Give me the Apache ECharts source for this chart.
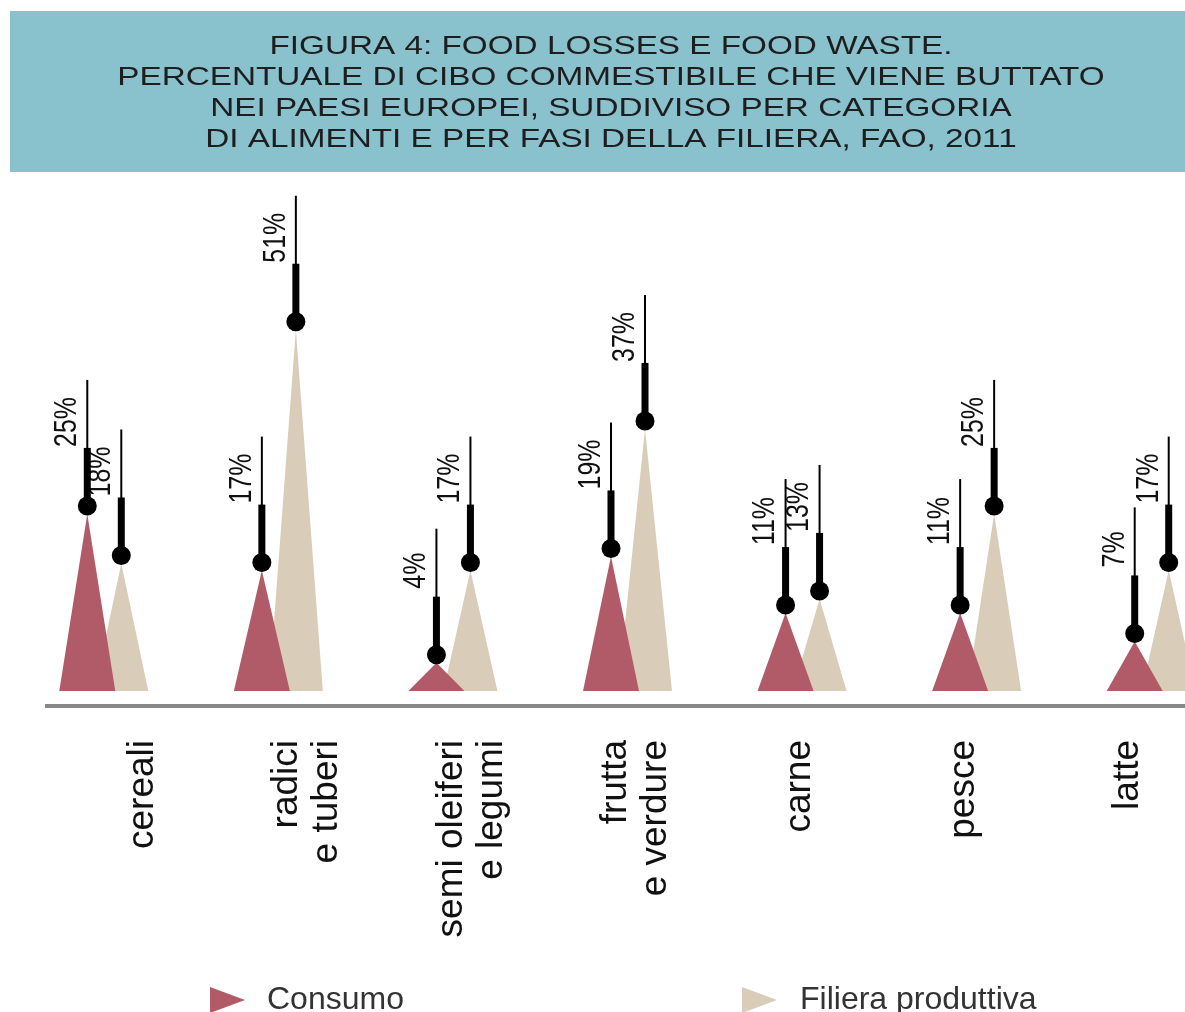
<!DOCTYPE html>
<html>
<head>
<meta charset="utf-8">
<title>Food losses e food waste</title>
<script src="https://cdn.jsdelivr.net/npm/echarts@6/dist/echarts.min.js"></script>
<style>
  html, body { margin: 0; padding: 0; background: #fff; }
  #chart { width: 1185px; height: 1012px; }
</style>
</head>
<body>
<div id="chart"></div>
<script>
// categorie di alimenti
const categories = ['cereali', 'radici\ne tuberi', 'semi oleiferi\ne legumi', 'frutta\ne verdure', 'carne', 'pesce', 'latte'];
// % di cibo buttato
const consumo = [25, 17, 4, 19, 11, 11, 7];
const filiera = [18, 51, 17, 37, 13, 25, 17];

const titleText = 'FIGURA 4: FOOD LOSSES E FOOD WASTE.\n' +
    'PERCENTUALE DI CIBO COMMESTIBILE CHE VIENE BUTTATO\n' +
    'NEI PAESI EUROPEI, SUDDIVISO PER CATEGORIA\n' +
    'DI ALIMENTI E PER FASI DELLA FILIERA, FAO, 2011';

const RED = '#b15b69';
const BEIGE = '#d9ccb9';

let chart = echarts.init(document.getElementById('chart'));

// stelo nero sopra la punta del triangolo + etichetta ruotata
function stem(dx) {
    return function (params, api) {
        let p = api.coord([api.value(0), api.value(1)]);
        let x = p[0] + dx, y = p[1];
        return {
            type: 'group',
            children: [
                { type: 'line', shape: { x1: x, y1: y - 64, x2: x, y2: y - 134 }, style: { stroke: '#000', lineWidth: 2 } },
                { type: 'rect', shape: { x: x - 3.5, y: y - 66, width: 7, height: 58 }, style: { fill: '#000' } },
                { type: 'circle', shape: { cx: x, cy: y - 8, r: 9.5 }, style: { fill: '#000' } },
                {
                    type: 'text', x: x - 20, y: y - 92, rotation: Math.PI / 2, scaleX: 0.78,
                    style: {
                        text: api.value(1) + '%', fontSize: 32, fontFamily: 'Liberation Sans',
                        fill: '#111', align: 'center', verticalAlign: 'middle',
                        textAlign: 'center', textVerticalAlign: 'middle'
                    }
                }
            ]
        };
    };
}

let options = {
    backgroundColor: '#fff',
    animation: false,
    graphic: [
        { type: 'rect', shape: { x: 10, y: 11, width: 1180, height: 161 }, style: { fill: '#89c1cd' }, z: 0 },
        {
            type: 'text', x: 611, y: 93, scaleX: 1.28,
            style: {
                text: titleText, fontSize: 26, lineHeight: 31, fontFamily: 'Liberation Sans',
                fill: '#1e1e1e', align: 'center', verticalAlign: 'middle',
                textAlign: 'center', textVerticalAlign: 'middle'
            },
            z: 1
        },
        { type: 'line', shape: { x1: 45, y1: 706, x2: 1185, y2: 706 }, style: { stroke: '#888', lineWidth: 4 }, z: 1 }
    ],
    legend: [{
        data: ['Consumo'],
        left: 205, top: 979,
        icon: 'path://M0,0L35,13L0,26Z',
        itemWidth: 35, itemHeight: 26,
        textStyle: { fontSize: 32, color: '#333', fontFamily: 'Liberation Sans', padding: [0, 0, 0, 17] }
    }, {
        data: ['Filiera produttiva'],
        left: 737, top: 979,
        icon: 'path://M0,0L35,13L0,26Z',
        itemWidth: 35, itemHeight: 26,
        textStyle: { fontSize: 32, color: '#333', fontFamily: 'Liberation Sans', padding: [0, 0, 0, 18] }
    }],
    grid: [
        { left: 17, width: 1222, top: 266, bottom: 321, outerBoundsMode: 'none' },
        { left: 61, width: 1149, top: 600, bottom: 306, outerBoundsMode: 'none' }
    ],
    xAxis: [{
        type: 'category',
        data: categories,
        gridIndex: 0,
        show: false
    }, {
        type: 'category',
        data: categories,
        gridIndex: 1,
        axisLine: { show: false },
        axisTick: { show: false },
        axisLabel: {
            rotate: 90,
            margin: 34,
            fontSize: 37,
            lineHeight: 40,
            color: '#111',
            fontFamily: 'Liberation Sans'
        }
    }],
    yAxis: [{
        type: 'value', gridIndex: 0, min: 0, max: 60, show: false
    }, {
        type: 'value', gridIndex: 1, show: false
    }],
    series: [{
        name: 'Filiera produttiva',
        type: 'pictorialBar',
        symbol: 'triangle',
        symbolSize: [54, '100%'],
        symbolOffset: [17, 0],
        barWidth: 54,
        barGap: '-100%',
        itemStyle: { color: BEIGE },
        data: filiera,
        z: 2
    }, {
        name: 'Consumo',
        type: 'pictorialBar',
        symbol: 'triangle',
        symbolSize: [56, '100%'],
        symbolOffset: [-17, 0],
        barWidth: 54,
        barGap: '-100%',
        itemStyle: { color: RED },
        data: consumo,
        z: 3
    }, {
        type: 'custom',
        renderItem: stem(17),
        data: filiera.map(function (v, i) { return [i, v]; }),
        clip: false,
        z: 4
    }, {
        type: 'custom',
        renderItem: stem(-17),
        data: consumo.map(function (v, i) { return [i, v]; }),
        clip: false,
        z: 4
    }]
};

chart.setOption(options);
window.addEventListener('resize', function () { chart.resize(); }, false);
</script>
</body>
</html>
